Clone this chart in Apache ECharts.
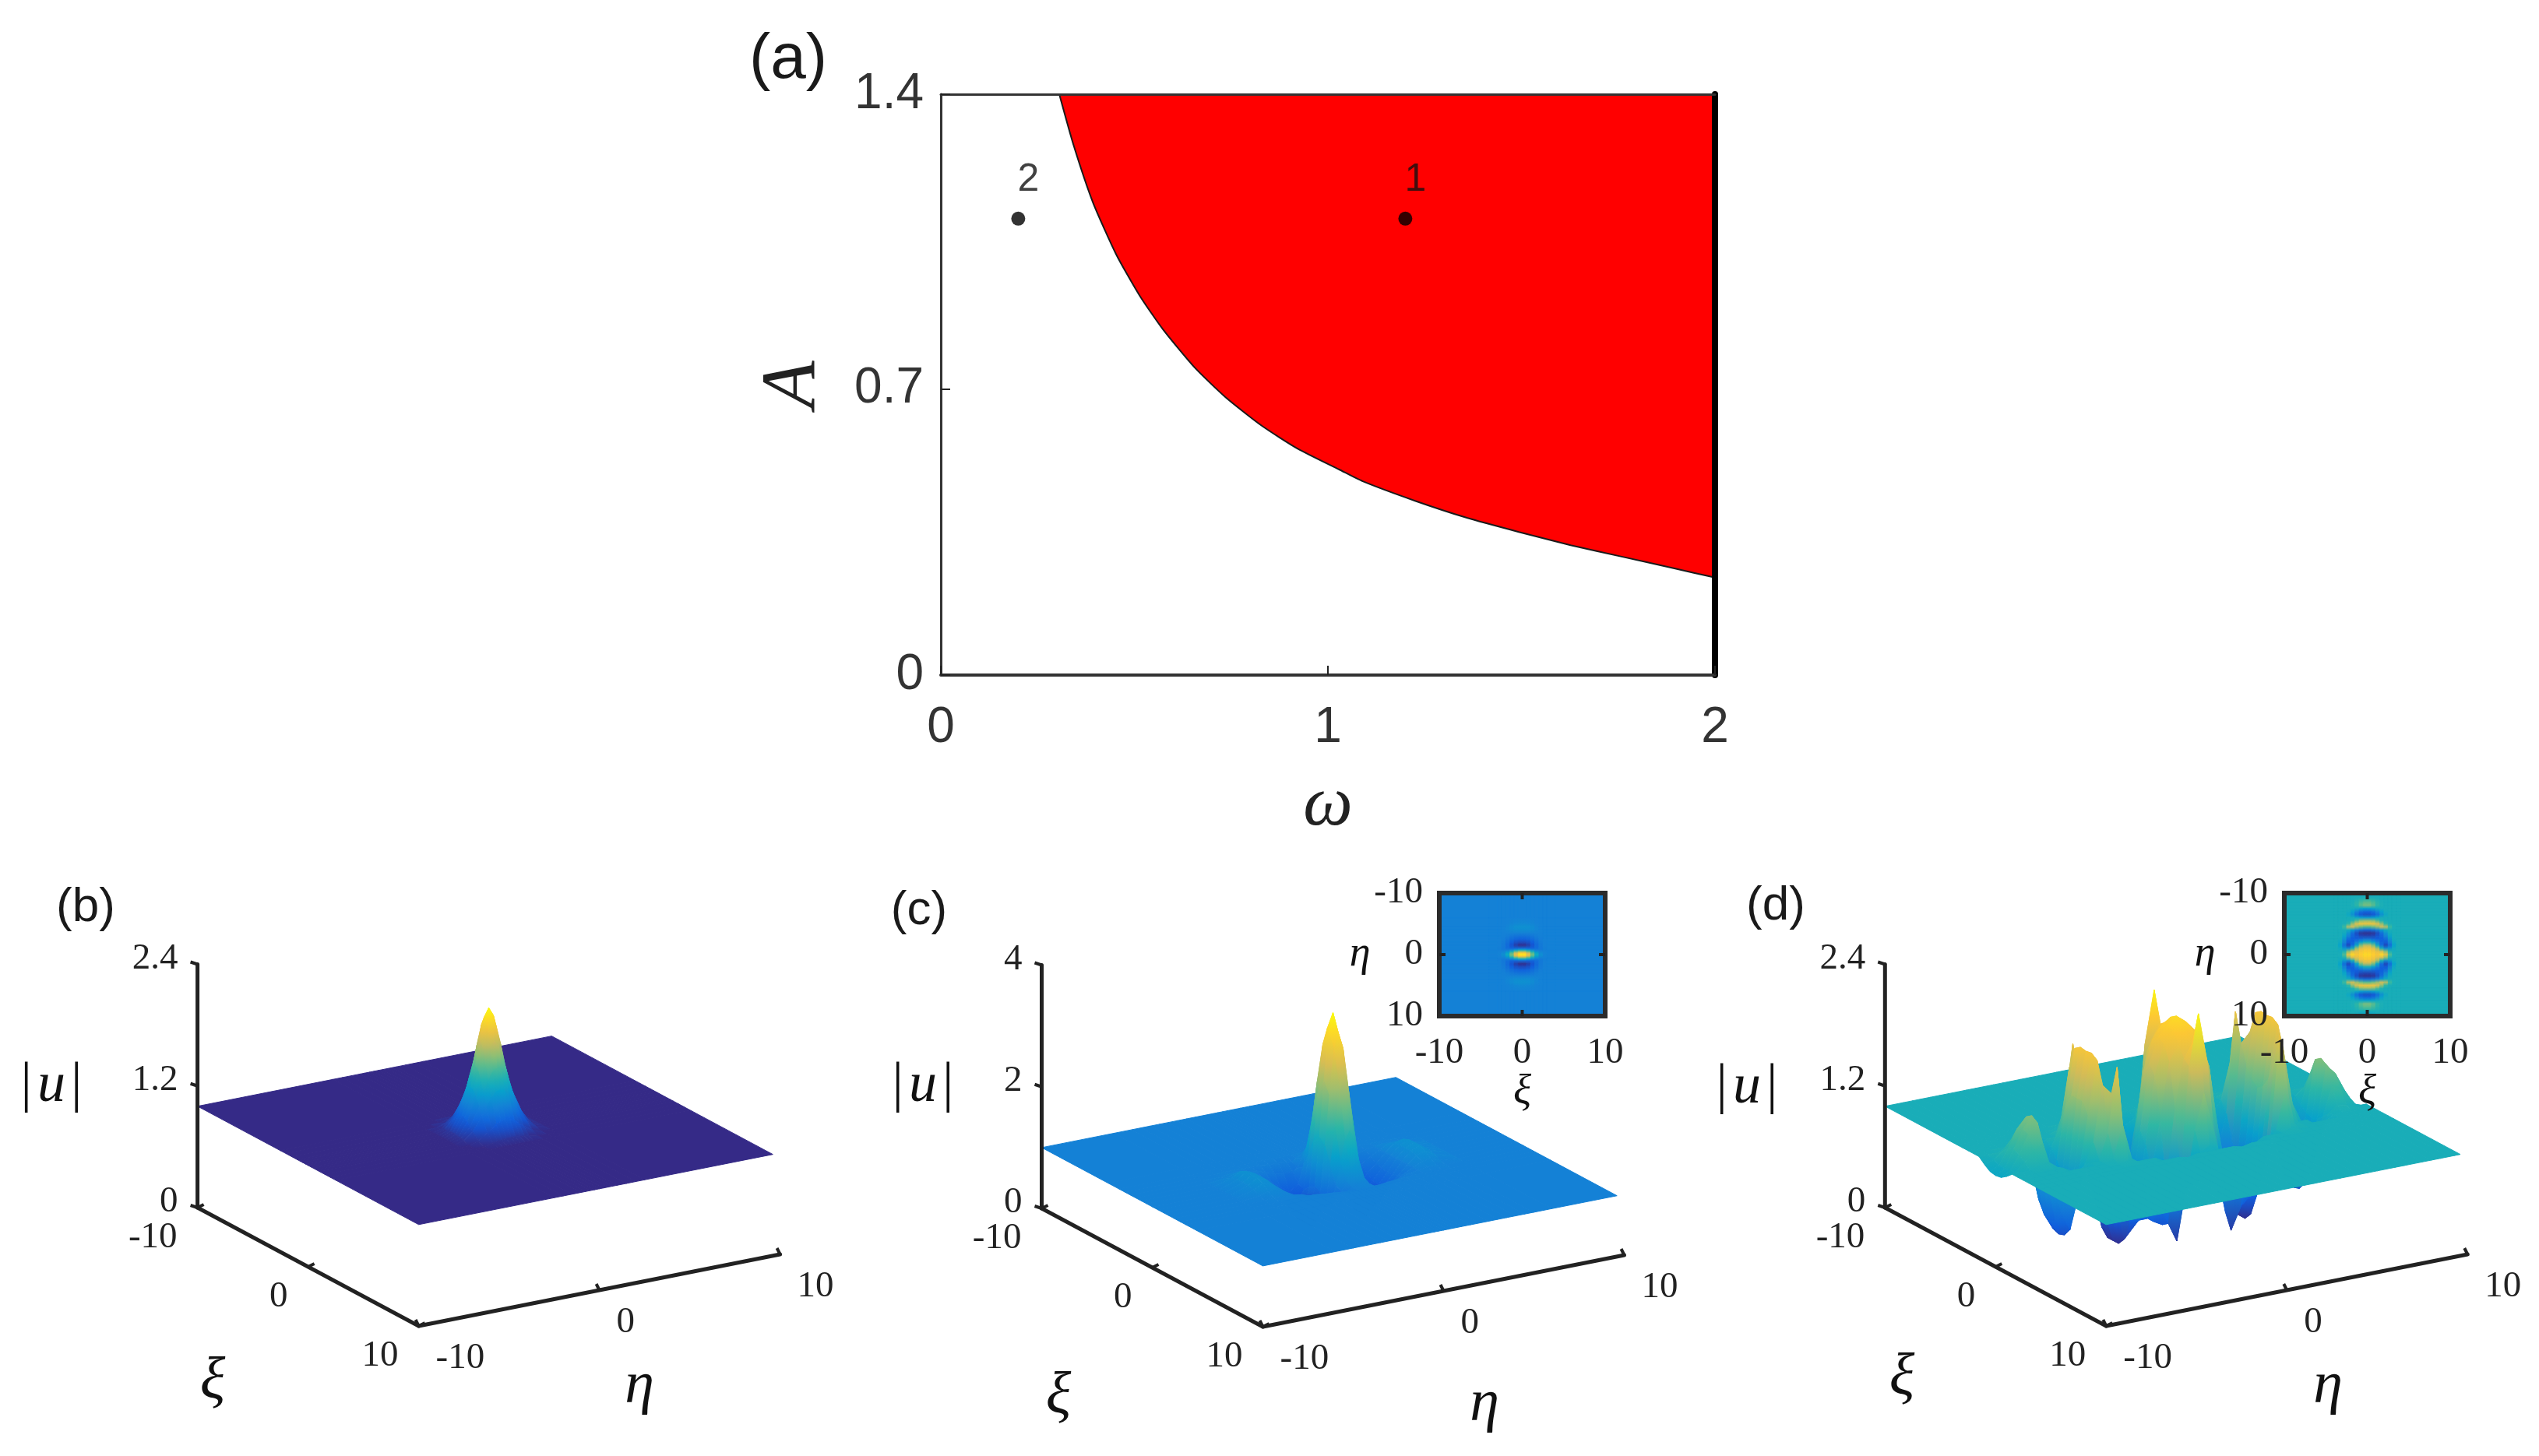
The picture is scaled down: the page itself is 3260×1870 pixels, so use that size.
<!DOCTYPE html>
<html>
<head>
<meta charset="utf-8">
<title>Panels a-d</title>
<script src="https://cdn.jsdelivr.net/npm/echarts@6/dist/echarts.min.js"></script>
<style>
  html, body { margin: 0; padding: 0; background: #fff; }
  #main { width: 3260px; height: 1870px; }
</style>
</head>
<body>
<div id="main"></div>
<script>
// panel (a): boundary of the red region
const omegaCurve = [0.306, 0.343, 0.393, 0.453, 0.514, 0.574, 0.655, 0.735, 0.829, 0.923, 1.03, 1.09, 1.225, 1.359, 1.493, 1.627, 1.761, 1.895, 2];
const ampCurve = [1.4, 1.277, 1.139, 1.014, 0.914, 0.833, 0.742, 0.67, 0.601, 0.545, 0.495, 0.467, 0.42, 0.379, 0.345, 0.313, 0.285, 0.257, 0.235];
const pointOmega = [1.2, 0.2];
const pointAmp = [1.1, 1.1];
const pointNames = ["1", "2"];
const omegaTicks = [0, 1, 2];
const ampTicks = [0, 0.69, 1.4]; // the middle tick sits a little under half height in the picture

// shared tick values of the 3D panels
const etaTicks = [-10, 0, 10];
const xiTicks = [-10, 0, 10];
const zTicksB = [0, 1.2, 2.4];
const zTicksC = [0, 2, 4];
const zTicksD = [0, 1.2, 2.4];

// panel (b) |u| on a mesh, rows are eta, columns are xi
const etaB = [-10, -2.5, -2, -1.5, -1, -0.75, -0.5, -0.25, 0, 0.25, 0.5, 0.75, 1, 1.5, 2, 2.5, 9.6];
const xiB = [-10, -2.5, -2, -1.5, -1, -0.75, -0.5, -0.25, 0, 0.25, 0.5, 0.75, 1, 1.5, 2, 2.5, 10];
const uB = [
  [1,1,1,1,1,1,1,1,1,1,1,1,1,1,1,1,1],
  [1,1,1,1,1,1,1,1,1,1,1,1,1,1,1,1,1],
  [1,1,1,1,1.02,1.03,1.03,1.04,1.04,1.04,1.03,1.03,1.02,1,1,1,1],
  [1,1,1,1.03,1.09,1.12,1.16,1.18,1.19,1.18,1.16,1.12,1.09,1.03,1,1,1],
  [1,1,1.02,1.09,1.22,1.30,1.37,1.43,1.45,1.43,1.37,1.30,1.22,1.09,1.02,1,1],
  [1,1,1.03,1.12,1.30,1.41,1.53,1.62,1.65,1.62,1.53,1.41,1.30,1.12,1.03,1,1],
  [1,1,1.03,1.16,1.37,1.53,1.69,1.84,1.90,1.84,1.69,1.53,1.37,1.16,1.03,1,1],
  [1,1,1.04,1.18,1.43,1.62,1.84,2.03,2.12,2.03,1.84,1.62,1.43,1.18,1.04,1,1],
  [1,1,1.04,1.19,1.45,1.65,1.90,2.12,2.20,2.12,1.90,1.65,1.45,1.19,1.04,1,1],
  [1,1,1.04,1.18,1.43,1.62,1.84,2.03,2.12,2.03,1.84,1.62,1.43,1.18,1.04,1,1],
  [1,1,1.03,1.16,1.37,1.53,1.69,1.84,1.90,1.84,1.69,1.53,1.37,1.16,1.03,1,1],
  [1,1,1.03,1.12,1.30,1.41,1.53,1.62,1.65,1.62,1.53,1.41,1.30,1.12,1.03,1,1],
  [1,1,1.02,1.09,1.22,1.30,1.37,1.43,1.45,1.43,1.37,1.30,1.22,1.09,1.02,1,1],
  [1,1,1,1.03,1.09,1.12,1.16,1.18,1.19,1.18,1.16,1.12,1.09,1.03,1,1,1],
  [1,1,1,1,1.02,1.03,1.03,1.04,1.04,1.04,1.03,1.03,1.02,1,1,1,1],
  [1,1,1,1,1,1,1,1,1,1,1,1,1,1,1,1,1],
  [1,1,1,1,1,1,1,1,1,1,1,1,1,1,1,1,1]
];

// panel (c)
const etaC = [-10, -6, -5, -4.5, -4, -3.5, -3, -2.5, -2, -1.5, -1, -0.75, -0.5, -0.25, 0, 0.25, 0.5, 0.75, 1, 1.5, 2, 2.5, 3, 3.5, 4, 4.5, 5, 6, 9.6];
const xiC = [-10, -4, -3, -2.5, -2, -1.5, -1, -0.5, 0, 0.5, 1, 1.5, 2, 2.5, 3, 4, 10];
const uC = [
  [1,1,1,1,1,1,1,1,1,1,1,1,1,1,1,1,1],
  [1,1,1,1,1,1,1,1,1,1,1,1,1,1,1,1,1],
  [1,1,1,1,1,1.03,1.08,1.1,1.1,1.1,1.08,1.03,1,1,1,1,1],
  [1,1,1,1,1.02,1.08,1.16,1.2,1.2,1.2,1.16,1.08,1.02,1,1,1,1],
  [1,1,1,1,1.02,1.07,1.12,1.14,1.14,1.14,1.12,1.07,1.02,1,1,1,1],
  [1,1,1,1,1,1,1,1,1,1,1,1,1,1,1,1,1],
  [1,1,1,1,.98,.92,.85,.82,.8,.82,.85,.92,.98,1,1,1,1],
  [1,1,1,1,.93,.82,.72,.65,.62,.65,.72,.82,.93,1,1,1,1],
  [1,1,1,.98,.88,.7,.5,.42,.4,.42,.5,.7,.88,.98,1,1,1],
  [1,1,1,.97,.85,.6,.4,.2,.14,.2,.4,.6,.85,.97,1,1,1],
  [1,1,1,.95,.85,.7,.65,.75,.8,.75,.65,.7,.85,.95,1,1,1],
  [1,1,1,.95,.9,.95,1.2,1.5,1.6,1.5,1.2,.95,.9,.95,1,1,1],
  [1,1,1,1,1.05,1.3,1.85,2.3,2.5,2.3,1.85,1.3,1.05,1,1,1,1],
  [1,1,1,1.03,1.2,1.65,2.4,3.05,3.3,3.05,2.4,1.65,1.2,1.03,1,1,1],
  [1,1,1,1.05,1.3,1.8,2.6,3.3,3.6,3.3,2.6,1.8,1.3,1.05,1,1,1],
  [1,1,1,1.03,1.2,1.65,2.4,3.05,3.3,3.05,2.4,1.65,1.2,1.03,1,1,1],
  [1,1,1,1,1.05,1.3,1.85,2.3,2.5,2.3,1.85,1.3,1.05,1,1,1,1],
  [1,1,1,.95,.9,.95,1.2,1.5,1.6,1.5,1.2,.95,.9,.95,1,1,1],
  [1,1,1,.95,.85,.7,.65,.75,.8,.75,.65,.7,.85,.95,1,1,1],
  [1,1,1,.97,.85,.6,.4,.2,.14,.2,.4,.6,.85,.97,1,1,1],
  [1,1,1,.98,.88,.7,.5,.42,.4,.42,.5,.7,.88,.98,1,1,1],
  [1,1,1,1,.93,.82,.72,.65,.62,.65,.72,.82,.93,1,1,1,1],
  [1,1,1,1,.98,.92,.85,.82,.8,.82,.85,.92,.98,1,1,1,1],
  [1,1,1,1,1,1,1,1,1,1,1,1,1,1,1,1,1],
  [1,1,1,1,1.02,1.07,1.12,1.14,1.14,1.14,1.12,1.07,1.02,1,1,1,1],
  [1,1,1,1,1.02,1.08,1.16,1.2,1.2,1.2,1.16,1.08,1.02,1,1,1,1],
  [1,1,1,1,1,1.03,1.08,1.1,1.1,1.1,1.08,1.03,1,1,1,1,1],
  [1,1,1,1,1,1,1,1,1,1,1,1,1,1,1,1,1],
  [1,1,1,1,1,1,1,1,1,1,1,1,1,1,1,1,1]
];

// panel (d)
const etaD = [-10, -9.5, -9, -8.5, -8, -7.5, -7, -6.5, -6, -5.5, -5, -4.5, -4, -3.5, -3, -2.5, -2, -1.5, -1, -0.5, 0, 0.5, 1, 1.5, 2, 2.5, 3, 3.5, 4, 4.5, 5, 5.5, 6, 6.5, 7, 7.5, 8, 8.5, 9, 9.3, 9.6];
const xiD = [-10, -4, -3.5, -3, -2.5, -2, -1.5, -1, -0.5, 0, 0.5, 1, 1.5, 2, 2.5, 3, 3.5, 4, 10];
const uD = [
  [1,1,1,1,1,1,1,.95,.91,.9,.91,.95,1,1,1,1,1,1,1],
  [1,1,1,1,1,1,1,.98,.96,.95,.96,.98,1,1,1,1,1,1,1],
  [1,1,1,1,1,1,1,1.05,1.1,1.12,1.1,1.05,1,1,1,1,1,1,1],
  [1,1,1,1,1,1,1.03,1.15,1.28,1.3,1.28,1.15,1.03,1,1,1,1,1,1],
  [1,1,1,1,1,1,1.05,1.2,1.38,1.42,1.38,1.2,1.05,1,1,1,1,1,1],
  [1,1,1,1,1,1,.98,.92,.87,.85,.87,.92,.98,1,1,1,1,1,1],
  [1,1,1,1,1,.95,.75,.5,.38,.35,.38,.5,.75,.95,1,1,1,1,1],
  [1,1,1,1,1,.85,.55,.3,.22,.2,.22,.3,.55,.85,1,1,1,1,1],
  [1,1,1,1,1,1,.95,.85,.75,.75,.75,.85,.95,1,1,1,1,1,1],
  [1,1,1,1,1,1,1.15,1.38,1.5,1.5,1.5,1.38,1.15,1,1,1,1,1,1],
  [1,1,1,1,1.03,1.25,1.7,1.92,1.96,1.95,1.96,1.92,1.7,1.25,1.03,1,1,1,1],
  [1,1,1,1.03,1.35,1.89,1.6,1.4,1.3,1.25,1.3,1.4,1.6,1.89,1.35,1.03,1,1,1],
  [1,1,1,1,1,.9,.65,.5,.4,.35,.4,.5,.65,.9,1,1,1,1,1],
  [1,1,1,1,.9,.55,.3,.1,.03,.03,.03,.1,.3,.55,.9,1,1,1,1],
  [1,1,1,1,.75,.4,.3,.2,.15,.15,.15,.2,.3,.4,.75,1,1,1,1],
  [1,1,1,.95,.5,.3,.3,.35,.45,.5,.45,.35,.3,.3,.5,.95,1,1,1],
  [1,1,1,.85,.3,.25,.4,.7,.95,1.05,.95,.7,.4,.25,.3,.85,1,1,1],
  [1,1,.98,.75,.1,.25,.6,1.2,1.6,1.7,1.6,1.2,.6,.25,.1,.75,.98,1,1],
  [1,1,1,.9,.6,.7,1.3,1.75,1.9,1.95,1.9,1.75,1.3,.7,.6,.9,1,1,1],
  [1,1,1,.95,1.15,1.75,1.8,1.92,2.02,2.05,2.02,1.92,1.8,1.75,1.15,.95,1,1,1],
  [1,1,1,1.02,1.5,2.26,1.95,2.0,2.08,2.12,2.08,2.0,1.95,2.26,1.5,1.02,1,1,1],
  [1,1,1,.95,1.15,1.75,1.8,1.92,2.02,2.05,2.02,1.92,1.8,1.75,1.15,.95,1,1,1],
  [1,1,1,.9,.6,.7,1.3,1.75,1.9,1.95,1.9,1.75,1.3,.7,.6,.9,1,1,1],
  [1,1,.98,.75,.1,.25,.6,1.2,1.6,1.7,1.6,1.2,.6,.25,.1,.75,.98,1,1],
  [1,1,1,.85,.3,.25,.4,.7,.95,1.05,.95,.7,.4,.25,.3,.85,1,1,1],
  [1,1,1,.95,.5,.3,.3,.35,.45,.5,.45,.35,.3,.3,.5,.95,1,1,1],
  [1,1,1,1,.75,.4,.3,.2,.15,.15,.15,.2,.3,.4,.75,1,1,1,1],
  [1,1,1,1,.9,.55,.3,.1,.03,.03,.03,.1,.3,.55,.9,1,1,1,1],
  [1,1,1,1,1,.9,.65,.5,.4,.35,.4,.5,.65,.9,1,1,1,1,1],
  [1,1,1,1.03,1.35,1.89,1.6,1.4,1.3,1.25,1.3,1.4,1.6,1.89,1.35,1.03,1,1,1],
  [1,1,1,1,1.03,1.25,1.7,1.92,1.96,1.95,1.96,1.92,1.7,1.25,1.03,1,1,1,1],
  [1,1,1,1,1,1,1.15,1.38,1.5,1.5,1.5,1.38,1.15,1,1,1,1,1,1],
  [1,1,1,1,1,1,.95,.85,.75,.75,.75,.85,.95,1,1,1,1,1,1],
  [1,1,1,1,1,.85,.55,.3,.22,.2,.22,.3,.55,.85,1,1,1,1,1],
  [1,1,1,1,1,.95,.75,.5,.38,.35,.38,.5,.75,.95,1,1,1,1,1],
  [1,1,1,1,1,1,.98,.92,.87,.85,.87,.92,.98,1,1,1,1,1,1],
  [1,1,1,1,1,1,1.05,1.2,1.38,1.42,1.38,1.2,1.05,1,1,1,1,1,1],
  [1,1,1,1,1,1,1.03,1.15,1.28,1.3,1.28,1.15,1.03,1,1,1,1,1,1],
  [1,1,1,1,1,1,1,1.05,1.1,1.12,1.1,1.05,1,1,1,1,1,1,1],
  [1,1,1,1,1,1,1,.98,.96,.95,.96,.98,1,1,1,1,1,1,1],
  [1,1,1,1,1,1,1,.95,.91,.9,.91,.95,1,1,1,1,1,1,1]
];

const parula = ["#352a87", "#0f5cdd", "#1481d6", "#06a4ca", "#2eb7a4", "#87bf77", "#d1bb59", "#fec832", "#f9fb0e"];
const inkColor = "#222222";
const serif = "Liberation Serif";
const sans = "Liberation Sans";

// axis-box vectors of the oblique view, in page pixels
const viewEta = [464, -92];
const viewXi = [284, 152];
const viewZ = 312.5;

const grids = [];
const xAxes = [];
const yAxes = [];
const seriesList = [];

function colorOf(u, range) {
  const t = Math.min(1, Math.max(0, (u - range[0]) / (range[1] - range[0])));
  return echarts.color.lerp(t, parula);
}

function gradientFill(hi, lo, range) {
  if (hi - lo < 0.002) return colorOf(hi, range);
  return new echarts.graphic.LinearGradient(0, 0, 0, 1, [
    { offset: 0, color: colorOf(hi, range) },
    { offset: 0.5, color: colorOf((hi + lo) / 2, range) },
    { offset: 1, color: colorOf(lo, range) }
  ]);
}

// a surface panel: hidden cartesian grid holding the projected view
function addSurface(panel) {
  const gridIndex = grids.length;
  const axisIndex = xAxes.length;
  const project = (eta, xi, u) => {
    const p = (eta + 10) / 20, q = (xi + 10) / 20;
    return [viewEta[0] * p + viewXi[0] * q, viewEta[1] * p + viewXi[1] * q - viewZ * u / panel.zMax];
  };
  grids.push({ left: panel.left, top: panel.baseY - viewZ, width: viewEta[0] + viewXi[0], height: viewZ + viewXi[1] });
  xAxes.push({ type: "value", gridIndex: gridIndex, show: false, min: 0, max: viewEta[0] + viewXi[0] });
  yAxes.push({ type: "value", gridIndex: gridIndex, show: false, inverse: true, min: -viewZ, max: viewXi[1] });

  // quads listed far to near so that nearer ones paint over
  const quads = [];
  for (let j = 0; j < panel.xi.length - 1; j++) {
    for (let i = panel.eta.length - 2; i >= 0; i--) {
      quads.push([panel.eta[i], panel.eta[i + 1], panel.xi[j], panel.xi[j + 1],
        panel.u[i][j], panel.u[i + 1][j], panel.u[i + 1][j + 1], panel.u[i][j + 1]]);
    }
  }

  seriesList.push({
    type: "custom", xAxisIndex: axisIndex, yAxisIndex: axisIndex, z: 2, silent: true, animation: false,
    clip: false, data: quads,
    renderItem: (params, api) => {
      const q = quads[params.dataIndex];
      const pts = [
        project(q[0], q[2], q[4]), project(q[1], q[2], q[5]),
        project(q[1], q[3], q[6]), project(q[0], q[3], q[7])
      ].map(p => api.coord(p));
      const us = q.slice(4);
      const fill = gradientFill(Math.max(...us), Math.min(...us), panel.range);
      return { type: "polygon", shape: { points: pts }, style: { fill: fill, stroke: fill, lineWidth: 1 } };
    }
  });

  // axes, ticks and tick labels
  const frame = [
    { from: [-10, -10, 0], to: [-10, -10, panel.zMax] },
    { from: [-10, -10, 0], to: [-10, 10, 0] },
    { from: [-10, 10, 0], to: [10, 10, 0] }
  ];
  panel.zTicks.forEach(v => frame.push({ at: [-10, -10, v], mark: [-9, -3], off: [-25, -7], align: "right", text: String(v) }));
  xiTicks.forEach(v => frame.push({ at: [-10, v, 0], mark: [8, -4], off: [-26, 39], align: "right", text: String(v) }));
  etaTicks.forEach(v => frame.push({ at: [v, 10, 0], mark: [-4, -8], off: [22, 42], align: "left", text: String(v) }));

  seriesList.push({
    type: "custom", xAxisIndex: axisIndex, yAxisIndex: axisIndex, z: 3, silent: true, animation: false,
    clip: false, data: frame.map((f, i) => [i, 0]),
    renderItem: (params, api) => {
      const f = frame[params.dataIndex];
      if (f.from) {
        const a = api.coord(project(...f.from)), b = api.coord(project(...f.to));
        return { type: "line", shape: { x1: a[0], y1: a[1], x2: b[0], y2: b[1] },
          style: { stroke: inkColor, lineWidth: 5, lineCap: "round" } };
      }
      const c = api.coord(project(...f.at));
      return { type: "group", children: [
        { type: "line", shape: { x1: c[0], y1: c[1], x2: c[0] + f.mark[0], y2: c[1] + f.mark[1] },
          style: { stroke: inkColor, lineWidth: 4 } },
        { type: "text", x: c[0] + f.off[0], y: c[1] + f.off[1],
          style: { text: f.text, fill: inkColor, font: "47px '" + serif + "'", textAlign: f.align, textVerticalAlign: "middle" } }
      ] };
    }
  });
}

// the top-view inset of panels (c) and (d)
function addInset(panel, left) {
  const gridIndex = grids.length;
  const axisIndex = xAxes.length;
  const labelStyle = { color: inkColor, fontFamily: serif, fontSize: 47 };
  const nameStyle = { color: "#111", fontFamily: serif, fontStyle: "italic", fontSize: 54 };
  grids.push({ left: left, top: 1147, width: 213, height: 158 });
  xAxes.push({
    type: "value", gridIndex: gridIndex, z: 11, min: -10, max: 10, interval: 10,
    axisLine: { show: false, onZero: false }, axisTick: { show: false }, splitLine: { show: false },
    axisLabel: Object.assign({ margin: 24 }, labelStyle),
    name: "ξ", nameLocation: "middle", nameGap: 39, nameTextStyle: nameStyle
  });
  yAxes.push({
    type: "value", gridIndex: gridIndex, z: 11, inverse: true, min: -10, max: 10, interval: 10,
    axisLine: { show: false, onZero: false }, axisTick: { show: false }, splitLine: { show: false },
    axisLabel: Object.assign({ margin: 21 }, labelStyle),
    name: "η", nameLocation: "middle", nameGap: 39, nameRotate: 0, nameTextStyle: nameStyle
  });
  const cells = [];
  for (let i = 0; i < panel.eta.length - 1; i++) {
    for (let j = 0; j < panel.xi.length - 1; j++) {
      cells.push([panel.xi[j], panel.xi[j + 1], panel.eta[i], panel.eta[i + 1],
        (panel.u[i][j] + panel.u[i][j + 1]) / 2, (panel.u[i + 1][j] + panel.u[i + 1][j + 1]) / 2]);
    }
  }
  // plain backing for the strip the mesh leaves at the far eta side
  seriesList.push({
    type: "custom", xAxisIndex: axisIndex, yAxisIndex: axisIndex, z: 8, silent: true, animation: false,
    data: [[-10, -10]],
    renderItem: (params, api) => {
      const a = api.coord([-10, -10]), b = api.coord([10, 10]);
      return { type: "rect", shape: { x: a[0], y: a[1], width: b[0] - a[0], height: b[1] - a[1] },
        style: { fill: colorOf(1, panel.range) } };
    }
  });
  seriesList.push({
    type: "custom", xAxisIndex: axisIndex, yAxisIndex: axisIndex, z: 9, silent: true, animation: false,
    data: cells,
    renderItem: (params, api) => {
      const c = cells[params.dataIndex];
      const a = api.coord([c[0], c[2]]), b = api.coord([c[1], c[3]]);
      const fill = c[4] === c[5] ? colorOf(c[4], panel.range)
        : new echarts.graphic.LinearGradient(0, 0, 0, 1, [
            { offset: 0, color: colorOf(c[4], panel.range) },
            { offset: 1, color: colorOf(c[5], panel.range) }
          ]);
      return { type: "rect", shape: { x: a[0], y: a[1], width: b[0] - a[0], height: b[1] - a[1] },
        style: { fill: fill, stroke: fill, lineWidth: 0.6 } };
    }
  });
  // frame with the tick nubs on all four sides
  seriesList.push({
    type: "custom", xAxisIndex: axisIndex, yAxisIndex: axisIndex, z: 10, silent: true, animation: false, clip: false,
    data: [[-10, -10]],
    renderItem: (params, api) => {
      const a = api.coord([-10, -10]), b = api.coord([10, 10]);
      const nub = (x1, y1, x2, y2) => ({ type: "line", shape: { x1, y1, x2, y2 }, style: { stroke: inkColor, lineWidth: 4 } });
      const xMid = api.coord([0, 0])[0], yMid = api.coord([0, 0])[1];
      return { type: "group", children: [
        { type: "rect", shape: { x: a[0], y: a[1], width: b[0] - a[0], height: b[1] - a[1] },
          style: { fill: "none", stroke: "#2b2b2b", lineWidth: 6 } },
        nub(xMid, a[1], xMid, a[1] + 8), nub(xMid, b[1], xMid, b[1] - 8),
        nub(a[0], yMid, a[0] + 8, yMid), nub(b[0], yMid, b[0] - 8, yMid)
      ] };
    }
  });
}

// panel (a)
grids.push({ left: 1208, top: 121, width: 994, height: 746 });
const tickA = { show: true, inside: true, length: 12, lineStyle: { color: inkColor, width: 2 } };
const labelA = { color: "#333", fontFamily: sans, fontSize: 64 };
xAxes.push({
  type: "value", gridIndex: 0, z: 5, min: 0, max: 2,
  axisLine: { show: true, onZero: false, lineStyle: { color: "#333", width: 4 } },
  axisTick: Object.assign({ customValues: omegaTicks }, tickA), splitLine: { show: false },
  axisLabel: Object.assign({ margin: 36, customValues: omegaTicks }, labelA),
  name: "ω", nameLocation: "middle", nameGap: 123,
  nameTextStyle: { color: "#222", fontFamily: serif, fontStyle: "italic", fontSize: 90 }
});
yAxes.push({
  type: "value", gridIndex: 0, z: 5, min: 0, max: 1.4,
  axisLine: { show: true, onZero: false, lineStyle: { color: "#333", width: 3 } },
  axisTick: Object.assign({ customValues: ampTicks }, tickA), splitLine: { show: false },
  axisLabel: Object.assign({ margin: 22, customValues: ampTicks,
    formatter: v => (v === 0 ? "0" : v.toFixed(1)) }, labelA),
  name: "A", nameLocation: "middle", nameGap: 138, nameRotate: 90,
  nameTextStyle: { color: "#222", fontFamily: serif, fontStyle: "italic", fontSize: 100 }
});
// top and right edges of the box; the right one is much heavier in the picture
xAxes.push({
  type: "value", gridIndex: 0, z: 5, position: "top", min: 0, max: 2,
  axisLine: { show: true, onZero: false, lineStyle: { color: "#333", width: 3 } },
  axisTick: { show: false }, axisLabel: { show: false }, splitLine: { show: false }
});
yAxes.push({
  type: "value", gridIndex: 0, z: 5, position: "right", min: 0, max: 1.4,
  axisLine: { show: true, onZero: false, lineStyle: { color: "#000", width: 8 } },
  axisTick: { show: false }, axisLabel: { show: false }, splitLine: { show: false }
});
seriesList.push({
  type: "line", xAxisIndex: 0, yAxisIndex: 0, z: 2, animation: false, silent: true,
  symbol: "none", smooth: 0.2,
  data: omegaCurve.map((w, i) => [w, ampCurve[i]]),
  lineStyle: { color: "#1a1a1a", width: 2 },
  areaStyle: { origin: "end", color: "#ff0000", opacity: 1 }
});
seriesList.push({
  type: "scatter", xAxisIndex: 0, yAxisIndex: 0, z: 4, animation: false, silent: true,
  symbolSize: 18, itemStyle: { color: "#000" },
  data: pointOmega.map((w, i) => ({ name: pointNames[i], value: [w, pointAmp[i]] })),
  label: { show: true, formatter: "{b}", position: "top", distance: 16, offset: [13, 0],
    color: "#111", fontFamily: sans, fontSize: 50 }
});

const panelB = { left: 253.6, baseY: 1551, zMax: 2.4, zTicks: zTicksB, range: [1, 2.2], eta: etaB, xi: xiB, u: uB };
const panelC = { left: 1337.5, baseY: 1552, zMax: 4, zTicks: zTicksC, range: [0.133, 3.6], eta: etaC, xi: xiC, u: uC };
const panelD = { left: 2420.3, baseY: 1551, zMax: 2.4, zTicks: zTicksD, range: [0, 2.3], eta: etaD, xi: xiD, u: uD };

addSurface(panelB);
addSurface(panelC);
addSurface(panelD);
addInset(panelC, 1848);
addInset(panelD, 2933);

function labelText(text, x, y, size) {
  return { type: "text", x: x, y: y, z: 20, style: {
    text: text, font: size + "px '" + sans + "'", fill: "#1a1a1a", textAlign: "center", textVerticalAlign: "middle"
  } };
}
function mathText(text, x, y, size) {
  return { type: "text", x: x, y: y, z: 20, style: {
    text: text, font: "italic " + size + "px '" + serif + "'", fill: "#111", textAlign: "center", textVerticalAlign: "middle"
  } };
}
function modU(x, y) {
  return { type: "text", x: x, y: y, z: 20, style: {
    text: "|{i|u}|", fill: "#111", textAlign: "center", textVerticalAlign: "middle",
    font: "72px '" + serif + "'",
    rich: { i: { font: "italic 72px '" + serif + "'", fill: "#111", padding: [0, 7, 0, 7] } }
  } };
}

const graphics = [
  labelText("(a)", 1012, 77, 82),
  labelText("(b)", 110, 1166, 62),
  labelText("(c)", 1180, 1170, 62),
  labelText("(d)", 2280, 1164, 62),
  modU(66, 1395), modU(1185, 1395), modU(2243, 1397),
  mathText("ξ", 273, 1776, 76), mathText("η", 821, 1781, 76),
  mathText("ξ", 1359, 1795, 76), mathText("η", 1906, 1804, 76),
  mathText("ξ", 2442, 1771, 76), mathText("η", 2989, 1781, 76)
];

const chart = echarts.init(document.getElementById("main"));
chart.setOption({
  animation: false,
  backgroundColor: "#fff",
  grid: grids,
  xAxis: xAxes,
  yAxis: yAxes,
  series: seriesList,
  graphic: graphics
});
</script>
</body>
</html>
